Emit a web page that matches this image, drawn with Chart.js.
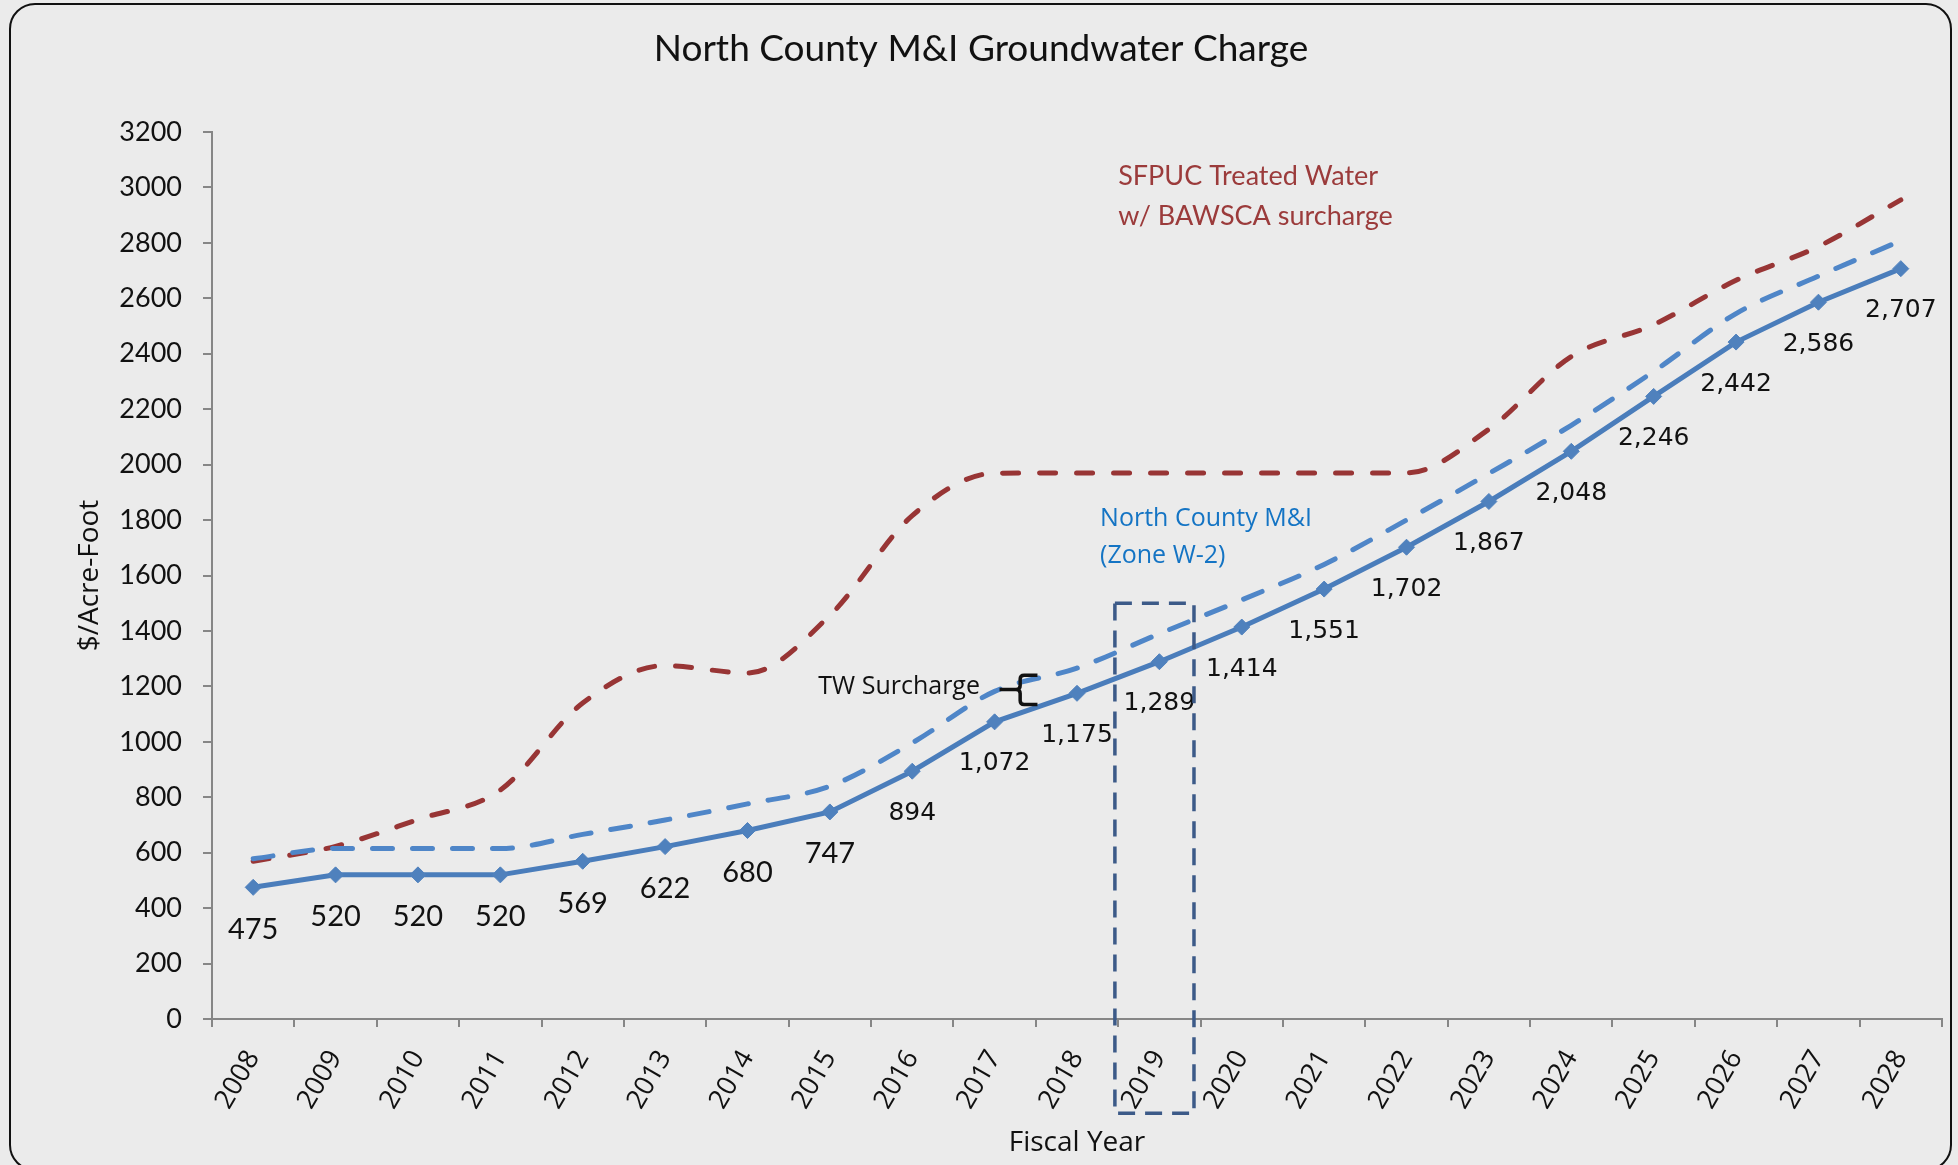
<!DOCTYPE html>
<html lang="en">
<head>
  <meta charset="UTF-8" />
  <title>North County M&amp;I Groundwater Charge</title>
  <style>
    html, body {
      margin: 0;
      padding: 0;
      background: #ebebeb;
      overflow: hidden;
    }

    .frame {
      position: absolute;
      left: 9px;
      top: 3px;
      width: 1943px;
      height: 1168px;
      border: 2px solid #111;
      border-radius: 26px;
      box-sizing: border-box;
    }

    .wrap {
      position: absolute;
      left: 0;
      top: 0;
      width: 1958px;
      height: 1165px;
    }
  </style>
</head>
<body>
  <div class="frame"></div>
  <div class="wrap"><canvas id="chart"></canvas></div>

  <script src="https://cdn.jsdelivr.net/npm/chart.js"></script>
  <script>
    // fiscal years on the x axis
    const years = ['2008', '2009', '2010', '2011', '2012', '2013', '2014', '2015', '2016', '2017',
      '2018', '2019', '2020', '2021', '2022', '2023', '2024', '2025', '2026', '2027', '2028'];

    // North County M&I (Zone W-2) charge, $/acre-foot
    const northCounty = [475, 520, 520, 520, 569, 622, 680, 747, 894, 1072,
      1175, 1289, 1414, 1551, 1702, 1867, 2048, 2246, 2442, 2586, 2707];

    // same charge plus treated water surcharge (dashed blue)
    const withSurcharge = [578, 615, 615, 615, 666, 718, 776, 840, 996, 1182,
      1266, 1390, 1512, 1640, 1800, 1968, 2142, 2336, 2545, 2680, 2808];

    // SFPUC treated water w/ BAWSCA surcharge (dashed red)
    const sfpuc = [569, 623, 720, 826, 1140, 1275, 1248, 1456, 1816, 1969,
      1970, 1970, 1970, 1970, 1970, 2128, 2390, 2505, 2665, 2787, 2955];

    const yMin = 0, yMax = 3200, yStep = 200;

    Chart.defaults.color = '#111';

    const extras = {
      id: 'extras',
      afterDatasetsDraw(chart) {
        const { ctx, scales: { x, y } } = chart;
        const px = i => x.getPixelForValue(i);
        const py = v => y.getPixelForValue(v);
        ctx.save();

        // value labels under the solid line
        const meta = chart.getDatasetMeta(0);
        ctx.fillStyle = '#111';
        ctx.textAlign = 'center';
        ctx.textBaseline = 'middle';
        meta.data.forEach((pt, i) => {
          ctx.font = i < 8 ? '29px Lato' : '25px "DejaVu Sans"';
          ctx.fillText(northCounty[i].toLocaleString('en-US'), pt.x, pt.y + 42);
        });

        // dashed box round 2019
        ctx.strokeStyle = '#3c5a88';
        ctx.lineWidth = 3.5;
        ctx.setLineDash([17, 10]);
        const l = px(10.46), r = px(11.42), t = py(1500), b = py(-340);
        ctx.strokeRect(l, t, r - l, b - t);
        ctx.setLineDash([]);

        // text notes
        ctx.textAlign = 'left';
        ctx.textBaseline = 'alphabetic';
        ctx.fillStyle = '#9b3b3b';
        ctx.font = '27px Lato';
        ctx.fillText('SFPUC Treated Water', px(10.5), py(3009));
        ctx.fillText('w/ BAWSCA surcharge', px(10.5), py(2864));

        ctx.fillStyle = '#1474c4';
        ctx.font = '25px "Open Sans"';
        ctx.fillText('North County M&I', px(10.28), py(1779));
        ctx.fillText('(Zone W-2)', px(10.28), py(1645));

        ctx.fillStyle = '#111';
        ctx.fillText('TW Surcharge', px(6.86), py(1171));

        // brace between the two blue lines
        const bx = px(9.31), bs = px(9.06), be = px(9.52);
        const bt = py(1240), bm = py(1189), bb = py(1135);
        ctx.strokeStyle = '#111';
        ctx.lineWidth = 3.5;
        ctx.lineJoin = 'round';
        ctx.beginPath();
        ctx.moveTo(be, bt);
        ctx.lineTo(bx + 4, bt);
        ctx.quadraticCurveTo(bx, bt, bx, bt + 4);
        ctx.lineTo(bx, bm - 4);
        ctx.quadraticCurveTo(bx, bm, bx - 4, bm);
        ctx.lineTo(bs, bm);
        ctx.moveTo(bx - 4, bm);
        ctx.quadraticCurveTo(bx, bm, bx, bm + 4);
        ctx.lineTo(bx, bb - 4);
        ctx.quadraticCurveTo(bx, bb, bx + 4, bb);
        ctx.lineTo(be, bb);
        ctx.stroke();

        // chart title
        ctx.fillStyle = '#111';
        ctx.textAlign = 'center';
        ctx.font = '37px Lato';
        ctx.fillText('North County M&I Groundwater Charge', 981, 61);

        ctx.restore();
      }
    };

    new Chart(document.getElementById('chart'), {
      type: 'line',
      data: {
        labels: years,
        datasets: [
          {
            label: 'North County M&I',
            data: northCounty,
            borderColor: '#4a7dbb',
            backgroundColor: '#4f81bd',
            borderWidth: 5,
            pointStyle: 'rectRot',
            pointRadius: 8,
            pointBorderWidth: 1,
            pointBorderColor: '#4f81bd',
            tension: 0
          },
          {
            label: 'With TW surcharge',
            data: withSurcharge,
            borderColor: '#4f86c8',
            borderWidth: 5,
            borderDash: [20, 20],
            borderCapStyle: 'round',
            pointRadius: 0,
            cubicInterpolationMode: 'monotone'
          },
          {
            label: 'SFPUC Treated Water w/ BAWSCA surcharge',
            data: sfpuc,
            borderColor: '#983535',
            borderWidth: 5,
            borderDash: [16, 21],
            borderCapStyle: 'round',
            pointRadius: 0,
            cubicInterpolationMode: 'monotone'
          }
        ]
      },
      options: {
        responsive: true,
        maintainAspectRatio: false,
        animation: false,
        layout: { padding: { top: 132, right: 16, left: 0, bottom: 0 } },
        plugins: {
          legend: { display: false },
          tooltip: { enabled: false }
        },
        scales: {
          x: {
            offset: true,
            afterFit(s) { s.height = 146; },
            grid: { offset: true, drawOnChartArea: false, tickLength: 8, color: '#868686', lineWidth: 2 },
            border: { color: '#868686', width: 2 },
            ticks: { minRotation: 60, maxRotation: 60, padding: 18, font: { family: 'Open Sans', size: 27 }, color: '#111' },
            title: { display: true, text: 'Fiscal Year', font: { family: 'Open Sans', size: 28 }, padding: { bottom: 5 }, color: '#111' }
          },
          y: {
            min: yMin,
            max: yMax,
            afterFit(s) { s.width = 212; },
            grid: { drawOnChartArea: false, tickLength: 9, color: '#868686', lineWidth: 2 },
            border: { color: '#868686', width: 2 },
            ticks: { stepSize: yStep, padding: 21, font: { family: 'Lato', size: 27 }, color: '#111', callback: v => String(v) },
            title: { display: true, text: '$/Acre-Foot', font: { family: 'Open Sans', size: 28 }, padding: { top: 73 }, color: '#111' }
          }
        }
      },
      plugins: [extras]
    });
  </script>
</body>
</html>
